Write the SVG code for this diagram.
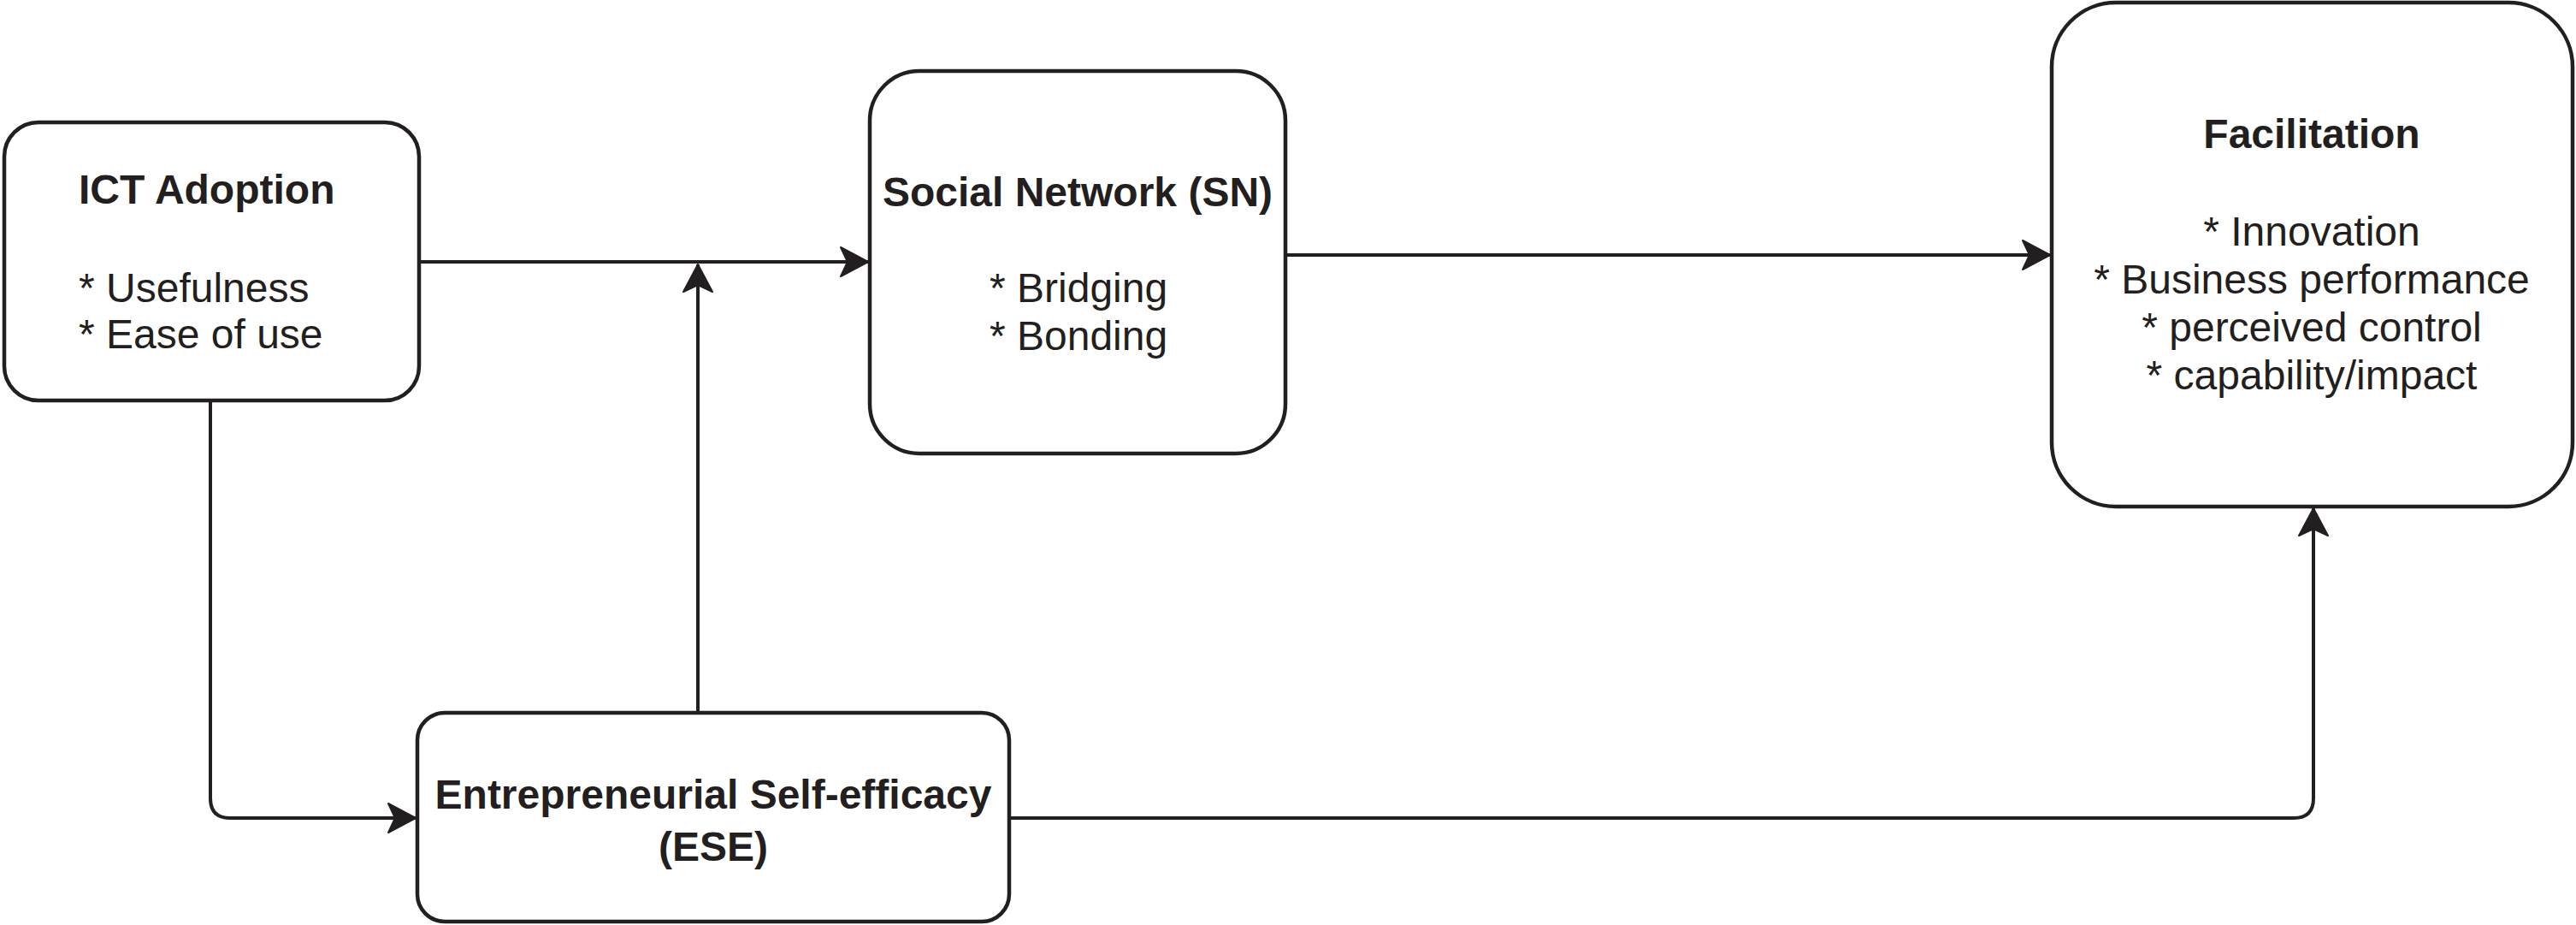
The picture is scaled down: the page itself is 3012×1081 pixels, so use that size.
<svg xmlns="http://www.w3.org/2000/svg" width="3012" height="1081" viewBox="0 0 3012 1081">
<style>
.box{fill:#ffffff;stroke:#231f20;stroke-width:4.5}
.t{font-family:"Liberation Sans",Arial,sans-serif;font-size:48px;fill:#231f20}
.b{font-weight:bold}
.c{text-anchor:middle}
.edge{fill:none;stroke:#231f20;stroke-width:4}
</style>
<defs>
<marker id="arr" markerUnits="userSpaceOnUse" markerWidth="40" markerHeight="40" viewBox="-34 -20 36 40" refX="0" refY="0" orient="auto">
<path d="M0,0 L-32,-17 L-24,0 L-32,17 Z" fill="#231f20" stroke="#231f20" stroke-width="2" stroke-linejoin="round"/>
</marker>
</defs>
<rect width="3012" height="1081" fill="#ffffff"/>
<g id="connectors">
<path class="edge" d="M490,306 H1015" marker-end="url(#arr)"/>
<path class="edge" d="M816,833 V309" marker-end="url(#arr)"/>
<path class="edge" d="M1503,298 H2397" marker-end="url(#arr)"/>
<path class="edge" d="M246,468 V933 Q246,956 269,956 H486" marker-end="url(#arr)"/>
<path class="edge" d="M1180,956 H2682 Q2705,956 2705,933 V594" marker-end="url(#arr)"/>
</g>
<g id="ict">
<rect class="box" x="5" y="143" width="485" height="325" rx="40" ry="40"/>
<text class="t b" x="92" y="238">ICT Adoption</text>
<text class="t" x="92" y="353">* Usefulness</text>
<text class="t" x="92" y="407">* Ease of use</text>
</g>
<g id="sn">
<rect class="box" x="1017" y="83" width="486" height="447" rx="58" ry="58"/>
<text class="t b c" x="1260" y="241">Social Network (SN)</text>
<text class="t" x="1157" y="353">* Bridging</text>
<text class="t" x="1157" y="409">* Bonding</text>
</g>
<g id="facilitation">
<rect class="box" x="2399" y="3" width="609" height="589" rx="75" ry="75"/>
<text class="t b c" x="2703" y="173">Facilitation</text>
<text class="t c" x="2703" y="287">* Innovation</text>
<text class="t c" x="2703" y="343">* Business performance</text>
<text class="t c" x="2703" y="399">* perceived control</text>
<text class="t c" x="2703" y="455">* capability/impact</text>
</g>
<g id="ese">
<rect class="box" x="488" y="833" width="692" height="244" rx="32" ry="32"/>
<text class="t b c" x="834" y="945">Entrepreneurial Self-efficacy</text>
<text class="t b c" x="834" y="1006">(ESE)</text>
</g>
</svg>
